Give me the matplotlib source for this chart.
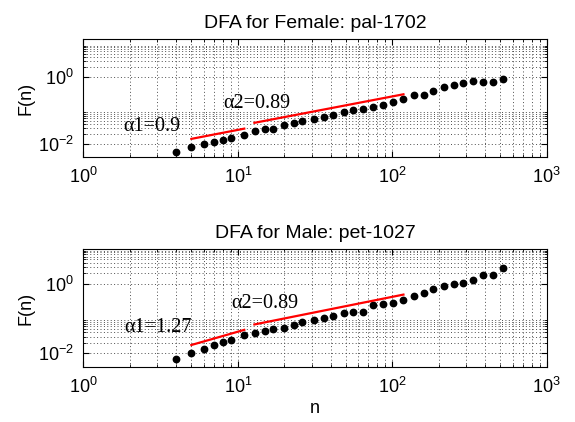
import numpy as np
import matplotlib
matplotlib.use('Agg')
import matplotlib.pyplot as plt
from matplotlib.ticker import FixedLocator, NullFormatter

plt.rcParams['font.family'] = ['Liberation Sans', 'DejaVu Sans']
plt.rcParams['mathtext.fontset'] = 'custom'
plt.rcParams['mathtext.rm'] = 'Liberation Sans'

# box sizes n used for both subjects
n_box = [4, 5, 6, 7, 8, 9, 11, 13, 15, 17, 20, 23, 26, 31, 36, 41, 49, 56,
         65, 75, 87, 101, 118, 138, 160, 184, 216, 251, 288, 334, 388, 451, 523]

# fluctuation function F(n)
F_female = [0.0057, 0.0080, 0.0098, 0.0112, 0.0132, 0.0148, 0.0186, 0.0234,
            0.0274, 0.0287, 0.0369, 0.0434, 0.0498, 0.0557, 0.0655, 0.0752,
            0.0902, 0.1035, 0.1135, 0.1244, 0.149, 0.179, 0.225, 0.297,
            0.304, 0.40, 0.50, 0.60, 0.68, 0.78, 0.73, 0.73, 0.91]
F_male = [0.0067, 0.0100, 0.0136, 0.0177, 0.0207, 0.0242, 0.0337, 0.0394,
          0.045, 0.0491, 0.0537, 0.067, 0.080, 0.0914, 0.1044, 0.119,
          0.1456, 0.159, 0.159, 0.242, 0.259, 0.289, 0.345, 0.43,
          0.537, 0.70, 0.875, 1.0, 1.045, 1.25, 1.82, 1.82, 2.9]

# scaling exponents and the fit ranges they belong to
alpha1 = {'female': 0.9, 'male': 1.27}
alpha2 = {'female': 0.89, 'male': 0.89}
range1 = (5, 11)
range2 = (12.8, 118)
# F value of each fit line at the geometric middle of its range
mid1 = {'female': 0.0200, 'male': 0.0286}
mid2 = {'female': 0.1148, 'male': 0.1815}

titles = {'female': 'DFA for Female: pal-1702', 'male': 'DFA for Male: pet-1027'}
ylims = {'female': (0.004, 14), 'male': (0.004, 10)}
lbl_pos = {'female': [(1.8, 0.033), (8.0, 0.164)],
           'male': [(1.85, 0.056), (9.1, 0.277)]}


def fit_line(rng, alpha, f_mid):
    n = np.array(rng, dtype=float)
    n_mid = np.sqrt(rng[0] * rng[1])
    return n, f_mid * (n / n_mid) ** alpha


def draw_panel(ax, key, F):
    ax.loglog(n_box, F, 'o', color='black', ms=4.6, mec='black', zorder=3)
    for rng, al, fm in [(range1, alpha1[key], mid1[key]),
                        (range2, alpha2[key], mid2[key])]:
        x, y = fit_line(rng, al, fm)
        ax.plot(x, y, color='red', lw=1.6, zorder=3)

    (x1, y1), (x2, y2) = lbl_pos[key]
    ax.text(x1, y1, '\u03b11=' + str(alpha1[key]), family='Liberation Serif',
            fontsize=14.5, va='center', ha='left')
    ax.text(x2, y2, '\u03b12=' + str(alpha2[key]), family='Liberation Serif',
            fontsize=14.5, va='center', ha='left')

    ax.set_xlim(1, 1000)
    ax.set_ylim(*ylims[key])
    ax.set_yticks([1e-2, 1e0])
    yminor = [k * 10.0 ** e for e in (-2, 0) for k in range(2, 10)]
    ax.yaxis.set_minor_locator(FixedLocator(yminor))
    ax.yaxis.set_minor_formatter(NullFormatter())
    ax.set_xticks([1, 10, 100, 1000])
    ax.grid(True, which='both', linestyle=(0, (1, 2.5)), color='0.3', lw=0.7)
    ax.tick_params(which='both', direction='in', top=True, right=True,
                   labelsize=13, pad=7)
    ax.tick_params(which='major', length=4)
    ax.tick_params(which='minor', length=2)
    ax.set_title(titles[key], fontsize=14, pad=8)
    ax.set_ylabel('F(n)', fontsize=13, labelpad=2)
    for s in ax.spines.values():
        s.set_linewidth(0.8)


fig = plt.figure(figsize=(5.75, 4.22), dpi=100)
ax1 = fig.add_axes([0.145, 0.628, 0.806, 0.279])
ax2 = fig.add_axes([0.145, 0.130, 0.806, 0.280])

draw_panel(ax1, 'female', F_female)
draw_panel(ax2, 'male', F_male)
ax2.set_xlabel('n', fontsize=13, labelpad=2)

fig.savefig('out.png', dpi=100)
